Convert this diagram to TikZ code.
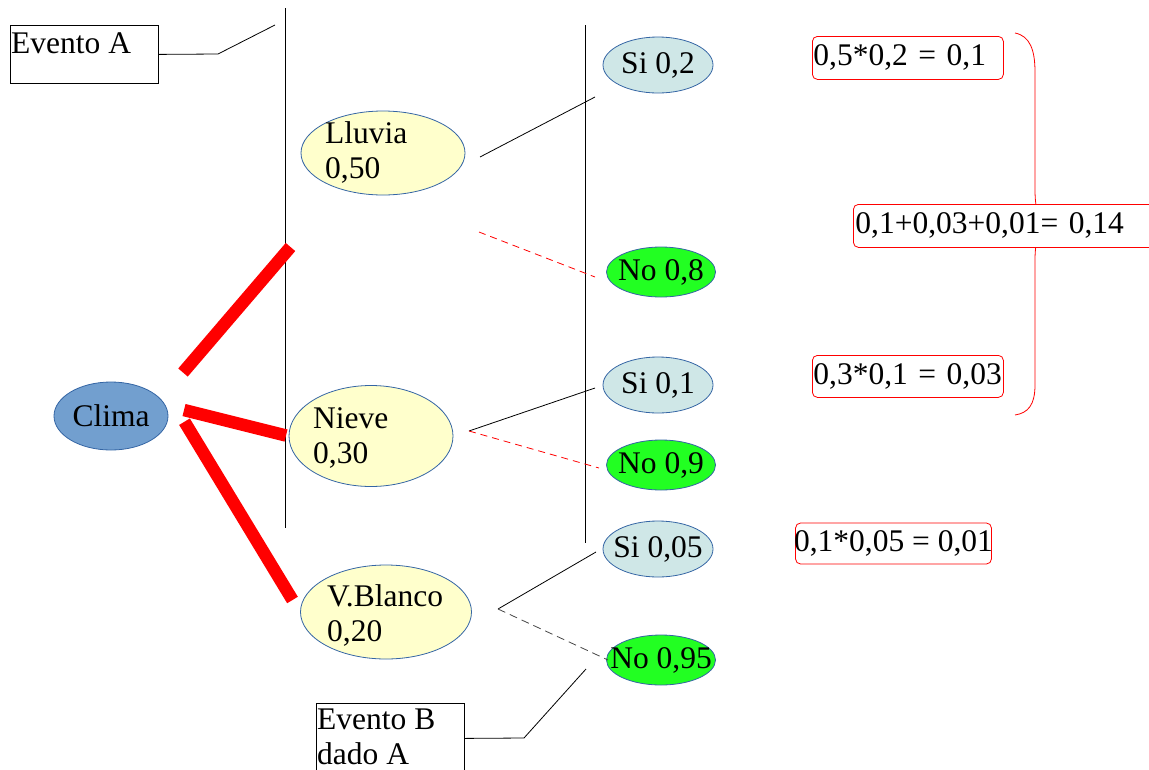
\documentclass[tikz,border=0pt]{standalone}
\usepackage{fontspec}
\setmainfont{Liberation Serif}
\usetikzlibrary{shapes.geometric}
\definecolor{ellborder}{RGB}{52,101,164}
\definecolor{yellowfill}{RGB}{255,255,204}
\definecolor{sifill}{RGB}{207,231,231}
\definecolor{nofill}{RGB}{34,255,34}
\definecolor{climafill}{RGB}{114,159,207}
\definecolor{dashgray}{RGB}{70,70,70}
\begin{document}
\begin{tikzpicture}[x=1pt,y=-1pt,
  every node/.style={font=\fontsize{31.5pt}{35pt}\selectfont},
  ell/.style={ellipse, draw=ellborder, line width=0.8pt, inner sep=0pt},
  eventnode/.style={ell, fill=yellowfill},
  sinode/.style={ell, fill=sifill, minimum width=110pt, minimum height=56pt},
  nonode/.style={ell, fill=nofill, minimum width=109pt, minimum height=50pt},
  lbl/.style={anchor=north west, inner sep=0pt, align=left},
  framebox/.style={draw=black, line width=0.8pt, anchor=north west, inner sep=0pt},
  calcbox/.style={draw=red, line width=0.8pt, rounded corners=5pt, fill=white, inner ysep=0pt, align=left},
  redbranch/.style={red, line width=12.5pt, line cap=butt},
  thinline/.style={black, line width=0.8pt},
  reddash/.style={red, line width=0.8pt, dash pattern=on 7pt off 5pt},
  graydash/.style={dashgray, line width=0.8pt, dash pattern=on 8pt off 5pt}
]
\useasboundingbox (0,0) rectangle (1149,769);
\clip (0,0) rectangle (1149,769);

% vertical separators
\draw[black, line width=1pt] (285,8) -- (285,528);
\draw[black, line width=1pt] (585,25) -- (585,543);

% Evento A
\node[framebox, minimum width=148pt, minimum height=58pt] (eventoA) at (10,25) {};
\node[lbl] (eventoAT) at (11,32.5) {Evento A};
\coordinate (aBend) at (218,54);
\coordinate (aEnd) at (275,25);
\draw[thinline] (eventoA.east) -- (aBend) -- (aEnd);

% Evento B
\node[framebox, minimum width=148pt, minimum height=70pt] (eventoB) at (316,703) {};
\node[lbl] (eventoBT) at (317,709) {Evento B\\dado A};
\coordinate (bBend) at (524,738);
\coordinate (bEnd) at (586,669);
\draw[thinline] (eventoB.east) -- (bBend) -- (bEnd);

% first level
\node[ell, fill=climafill, minimum width=114pt, minimum height=68pt] (clima) at (111,416) {\makebox[0pt]{Clima}};
\node[eventnode, minimum width=164pt, minimum height=84pt] (lluvia) at (383,153) {};
\node[lbl] (lluviaT) at (325,121) {Lluvia\\0,50};
\node[eventnode, minimum width=164pt, minimum height=101pt] (nieve) at (371,436) {};
\node[lbl] (nieveT) at (313,407.5) {Nieve\\0,30};
\node[eventnode, minimum width=171pt, minimum height=94pt] (blanco) at (386,612) {};
\node[lbl] (blancoT) at (327,584) {V.Blanco\\0,20};

% thick red branches
\coordinate (c1) at (183,372.5); \coordinate (c1e) at (290.5,247);
\coordinate (c2) at (184,410);   \coordinate (c2e) at (286,435.5);
\coordinate (c3) at (184.5,421.7); \coordinate (c3e) at (292.5,600);
\draw[redbranch] (c1) -- (c1e);
\draw[redbranch] (c2) -- (c2e);
\draw[redbranch] (c3) -- (c3e);

% second level
\node[sinode] (si1) at (658,65) {\makebox[0pt]{Si 0,2}};
\node[nonode] (no1) at (661,272) {\makebox[0pt]{No 0,8}};
\node[sinode] (si2) at (658,385) {\makebox[0pt]{Si 0,1}};
\node[nonode] (no2) at (661,465) {\makebox[0pt]{No 0,9}};
\node[sinode] (si3) at (658,549) {\makebox[0pt]{Si 0,05}};
\node[nonode] (no3) at (661,660) {\makebox[0pt]{No 0,95}};

% connectors
\coordinate (lS) at (480,157); \coordinate (lD) at (479,232);
\coordinate (s1e) at (595,97); \coordinate (n1e) at (595,277);
\draw[thinline] (lS) -- (s1e);
\draw[reddash] (lD) -- (n1e);
\coordinate (nS) at (469,431);
\coordinate (s2e) at (595,388); \coordinate (n2e) at (599,468);
\draw[thinline] (nS) -- (s2e);
\draw[reddash] (nS) -- (n2e);
\coordinate (bS) at (498,609);
\coordinate (s3e) at (596,552); \coordinate (n3e) at (608,660);
\draw[thinline] (bS) -- (s3e);
\draw[graydash] (bS) -- (n3e);

% brace
\draw[red, line width=0.8pt] (1015,33) .. controls (1030,36) and (1035,50) .. (1035,72)
  -- (1035,190) .. controls (1035,212) and (1040,222) .. (1048,225)
  .. controls (1040,228) and (1035,238) .. (1035,260)
  -- (1035,385) .. controls (1035,405) and (1028,413) .. (1015,415);

% calculation boxes
\node[calcbox, anchor=north west, inner xsep=1pt, text width=189pt, minimum height=43pt] (calc1) at (812,36) {0,5*0,2 = 0,1};
\node[calcbox, anchor=north west, inner xsep=2pt, text width=396pt, minimum height=43pt] (calcsum) at (853,204) {0,1+0,03+0,01= 0,14};
\node[calcbox, anchor=north west, inner xsep=1pt, text width=189pt, minimum height=42pt] (calc2) at (812,355) {0,3*0,1 = 0,03};
\node[calcbox, inner xsep=-1.5pt, minimum height=41pt] (calc3) at (893.5,543.5) {0,1*0,05 = 0,01};
\end{tikzpicture}
\end{document}
